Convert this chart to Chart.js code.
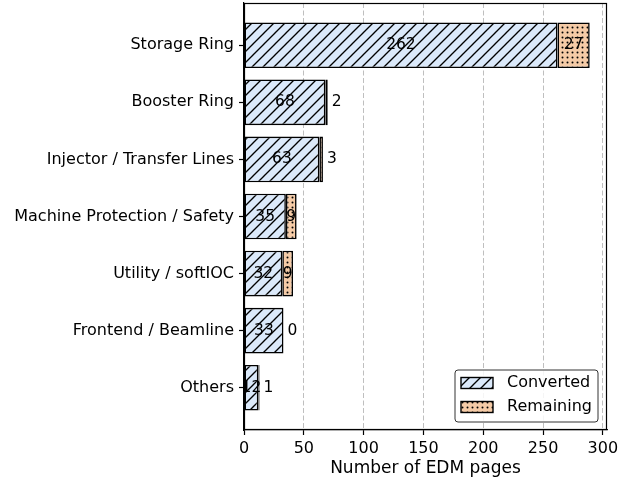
<!DOCTYPE html>
<html>
<head>
<meta charset="utf-8">
<script src="https://cdn.jsdelivr.net/npm/chart.js@4.4.0/dist/chart.umd.min.js"></script>
<style>
  html, body { margin: 0; padding: 0; background: #fff; }
  #wrap { width: 624px; height: 483px; }
</style>
</head>
<body>
<div id="wrap"><canvas id="graficoEDM" width="624" height="483"></canvas></div>
<script>
// Datos del grafico
const categorias = ['Storage Ring', 'Booster Ring', 'Injector / Transfer Lines', 'Machine Protection / Safety', 'Utility / softIOC', 'Frontend / Beamline', 'Others'];
const convertidas = [262, 68, 63, 35, 32, 33, 12];
const restantes = [27, 2, 3, 9, 9, 0, 1];
const ticksX = [0, 50, 100, 150, 200, 250, 300];
const nombresSeries = ['Converted', 'Remaining'];

Chart.defaults.font.family = '"DejaVu Sans", sans-serif';
Chart.defaults.font.size = 16;
Chart.defaults.color = '#000';

const canvas = document.getElementById('graficoEDM');
const ctx = canvas.getContext('2d');

//Patrones de relleno (hatch)
function patronRayas(fondo) {
    const c = document.createElement('canvas');
    c.width = 11; c.height = 11;
    const g = c.getContext('2d');
    g.fillStyle = fondo;
    g.fillRect(0, 0, 11, 11);
    g.strokeStyle = '#000';
    g.lineWidth = 1.35;
    g.beginPath();
    g.moveTo(-1, 12); g.lineTo(12, -1);
    g.moveTo(-1, 1); g.lineTo(1, -1);
    g.moveTo(10, 12); g.lineTo(12, 10);
    g.stroke();
    return ctx.createPattern(c, 'repeat');
}
function patronPuntos(fondo) {
    const c = document.createElement('canvas');
    c.width = 5; c.height = 5;
    const g = c.getContext('2d');
    g.fillStyle = fondo;
    g.fillRect(0, 0, 5, 5);
    g.fillStyle = '#000';
    g.beginPath();
    g.arc(2.5, 2.5, 1.0, 0, Math.PI * 2);
    g.fill();
    return ctx.createPattern(c, 'repeat');
}
const rellenos = [patronRayas('#dbe9fa'), patronPuntos('#f5cba7')];

//Etiquetas, marco y leyenda
const extras = {
    id: 'extras',
    afterDatasetsDraw(chart) {
        const c = chart.ctx;
        const area = chart.chartArea;
        c.save();
        c.strokeStyle = '#000';
        c.lineWidth = 1.2;
        c.strokeRect(Math.round(area.left) + 0.5, Math.round(area.top) + 0.5,
            Math.round(area.right - area.left) - 1, Math.round(area.bottom - area.top) - 1);

        c.font = '15.5px "DejaVu Sans"';
        c.fillStyle = '#000';
        c.textBaseline = 'middle';
        chart.getDatasetMeta(0).data.forEach((bar, i) => {
            const p = bar.getProps(['x', 'y', 'base'], true);
            c.textAlign = 'center';
            c.fillText(convertidas[i], (p.x + p.base) / 2, p.y);
        });
        chart.getDatasetMeta(1).data.forEach((bar, i) => {
            const p = bar.getProps(['x', 'y', 'base'], true);
            if (restantes[i] >= 5) {
                c.textAlign = 'center';
                c.fillText(restantes[i], (p.x + p.base) / 2, p.y);
            } else {
                c.textAlign = 'left';
                c.fillText(restantes[i], p.x + 4, p.y);
            }
        });

        // leyenda
        const bw = 143, bh = 52;
        const bx = area.right - 9 - bw, by = area.bottom - 8 - bh;
        c.beginPath();
        c.roundRect(bx, by, bw, bh, 3);
        c.fillStyle = 'rgba(255,255,255,0.85)';
        c.fill();
        c.strokeStyle = '#333';
        c.lineWidth = 1;
        c.stroke();
        nombresSeries.forEach((n, k) => {
            const yy = by + 13 + k * 24;
            c.fillStyle = rellenos[k];
            c.fillRect(bx + 6, yy - 5.5, 32, 11);
            c.strokeStyle = '#000';
            c.lineWidth = 1.4;
            c.strokeRect(bx + 6, yy - 5.5, 32, 11);
            c.fillStyle = '#000';
            c.textAlign = 'left';
            c.font = '16px "DejaVu Sans"';
            c.fillText(n, bx + 52, yy);
        });
        c.restore();
    }
};

new Chart(ctx, {
    type: 'bar',
    data: {
        datasets: [
            {
                label: nombresSeries[0],
                data: convertidas.map((v, i) => ({ x: v, y: i })),
                backgroundColor: rellenos[0],
                borderColor: '#000',
                borderWidth: 1.6,
                borderSkipped: false,
                stack: 'a'
            },
            {
                label: nombresSeries[1],
                data: restantes.map((v, i) => ({ x: v, y: i })),
                backgroundColor: rellenos[1],
                borderColor: '#000',
                borderWidth: 1.6,
                borderSkipped: false,
                stack: 'a'
            }
        ]
    },
    options: {
        indexAxis: 'y',
        responsive: false,
        animation: false,
        devicePixelRatio: 1,
        barPercentage: 0.8,
        categoryPercentage: 1.0,
        layout: { padding: { top: 3, right: 17, left: 0, bottom: 0 } },
        plugins: { legend: { display: false }, tooltip: { enabled: false } },
        scales: {
            x: {
                type: 'linear',
                stacked: true,
                min: 0,
                max: 303.45,
                afterBuildTicks: (s) => { s.ticks = ticksX.map(v => ({ value: v })); },
                ticks: { padding: 4, includeBounds: false, font: { size: 16 } },
                grid: {
                    color: 'rgba(176,176,176,0.9)',
                    lineWidth: 0.9,
                    tickColor: '#000',
                    tickLength: 5,
                    tickWidth: 1.2,
                    tickBorderDash: []
                },
                border: { display: true, color: '#000', width: 1.2, dash: [5, 2.5] },
                title: { display: true, text: 'Number of EDM pages', font: { size: 17 }, padding: { top: 2, bottom: 4 } },
                afterFit: (s) => { s.height = 53; s.paddingLeft = 0; s.paddingRight = 0; }
            },
            y: {
                type: 'linear',
                stacked: true,
                reverse: true,
                offset: false,
                min: -0.74,
                max: 6.74,
                afterBuildTicks: (s) => { s.ticks = categorias.map((c, i) => ({ value: i })); },
                ticks: { callback: (v) => categorias[v], padding: 5, font: { size: 16 }, autoSkip: false },
                grid: { offset: false, drawOnChartArea: false, color: '#000', tickLength: 5, tickWidth: 1.2 },
                border: { display: true, color: '#000', width: 1.2 },
                afterFit: (s) => { s.width = 244; s.paddingTop = 0; s.paddingBottom = 0; }
            }
        }
    },
    plugins: [extras]
});
</script>
</body>
</html>
